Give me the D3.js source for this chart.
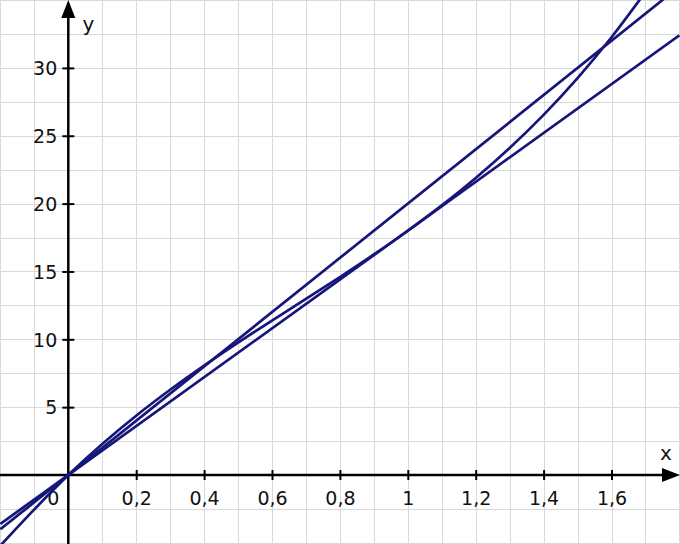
<!DOCTYPE html>
<html>
<head>
<meta charset="utf-8">
<script src="https://cdn.jsdelivr.net/npm/d3@7"></script>
<style>
html,body{margin:0;padding:0;background:#fff;}
svg{display:block;}
text{font-family:"DejaVu Sans",Verdana,sans-serif;}
</style>
</head>
<body>
<svg id="chart" width="680" height="544"></svg>
<script>
// ---- data ----
const xTickValues = [0.2, 0.4, 0.6, 0.8, 1, 1.2, 1.4, 1.6];
const yTickValues = [5, 10, 15, 20, 25, 30];
const curveX = [-0.2, -0.1, 0, 0.1, 0.2, 0.3, 0.4, 0.5, 0.6, 0.7, 0.8, 0.9, 1.0, 1.1, 1.2, 1.3, 1.4, 1.5, 1.6, 1.7];
const curveY = [-5.2, -2.53, 0, 2.29, 4.37, 6.28, 8.06, 9.75, 11.38, 12.98, 14.59, 16.25, 18.0, 19.87, 21.89, 24.10, 26.54, 29.25, 32.26, 35.6];
const line1X = [-0.2, 1.8];
const line1Y = [-4, 36];
const line2X = [-0.2, 1.8];
const line2Y = [-3.6, 32.4];

const W = 680, H = 544;
const svg = d3.select("#chart");
const x = d3.scaleLinear().domain([0, 1]).range([68.3, 407.8]);
const y = d3.scaleLinear().domain([0, 30]).range([475, 67.9]);

// grid
const gridColor = "#d9d9d9";
const gx = d3.range(-2, 19).map(i => i / 10);
const gy = d3.range(-2, 15).map(i => i * 2.5);
svg.append("g").selectAll("line").data(gx).join("line")
  .attr("x1", d => Math.round(x(d)) + 0.5).attr("x2", d => Math.round(x(d)) + 0.5)
  .attr("y1", 0).attr("y2", H).attr("stroke", gridColor).attr("stroke-width", 1);
svg.append("g").selectAll("line").data(gy).join("line")
  .attr("y1", d => Math.round(y(d)) + 0.5).attr("y2", d => Math.round(y(d)) + 0.5)
  .attr("x1", 0).attr("x2", W).attr("stroke", gridColor).attr("stroke-width", 1);

// axes
const fs = 19;
const fmt = d => String(d).replace(".", ",");
const xAxis = svg.append("g").attr("transform", `translate(0,${y(0)})`)
  .call(d3.axisBottom(x).tickValues(xTickValues).tickFormat(fmt).tickSize(5));
xAxis.select(".domain").remove();
xAxis.selectAll(".tick line").attr("y1", -5).attr("y2", 5).attr("stroke", "#000").attr("stroke-width", 2);
xAxis.selectAll(".tick text").attr("y", 30).attr("dy", null).attr("font-size", fs)
  .attr("font-family", "DejaVu Sans, Verdana, sans-serif").attr("fill", "#111");

const yAxis = svg.append("g").attr("transform", `translate(${x(0)},0)`)
  .call(d3.axisLeft(y).tickValues(yTickValues).tickSize(6));
yAxis.select(".domain").remove();
yAxis.selectAll(".tick line").attr("x1", -6).attr("x2", 6).attr("stroke", "#000").attr("stroke-width", 2);
yAxis.selectAll(".tick text").attr("x", -11).attr("dy", "0.36em").attr("font-size", fs)
  .attr("font-family", "DejaVu Sans, Verdana, sans-serif").attr("fill", "#111");

// origin label
svg.append("text").attr("x", x(0) - 9).attr("y", y(0) + 30).attr("text-anchor", "end")
  .attr("font-size", fs).attr("fill", "#111").text("0");

// axis lines with arrows
svg.append("line").attr("x1", 0).attr("x2", W - 10).attr("y1", y(0)).attr("y2", y(0))
  .attr("stroke", "#000").attr("stroke-width", 2.5);
svg.append("path").attr("d", `M${W},${y(0)} L${W - 18},${y(0) - 7} L${W - 18},${y(0) + 7} Z`).attr("fill", "#000");
svg.append("line").attr("x1", x(0)).attr("x2", x(0)).attr("y1", H).attr("y2", 10)
  .attr("stroke", "#000").attr("stroke-width", 2.5);
svg.append("path").attr("d", `M${x(0)},0 L${x(0) - 7},18 L${x(0) + 7},18 Z`).attr("fill", "#000");

svg.append("text").attr("x", x(0) + 20).attr("y", 31).attr("text-anchor", "middle")
  .attr("font-size", 20).attr("fill", "#111").text("y");
svg.append("text").attr("x", 666).attr("y", 460).attr("text-anchor", "middle")
  .attr("font-size", 20).attr("fill", "#111").text("x");

// graphs
svg.append("clipPath").attr("id", "clip").append("rect").attr("width", W).attr("height", H);
const g = svg.append("g").attr("clip-path", "url(#clip)");
const color = "#16167a";
const lineGen = d3.line().x(d => x(d[0])).y(d => y(d[1]));
g.append("path").datum(d3.zip(line1X, line1Y)).attr("d", lineGen)
  .attr("fill", "none").attr("stroke", color).attr("stroke-width", 2.7);
g.append("path").datum(d3.zip(line2X, line2Y)).attr("d", lineGen)
  .attr("fill", "none").attr("stroke", color).attr("stroke-width", 2.7);
g.append("path").datum(d3.zip(curveX, curveY)).attr("d", lineGen.curve(d3.curveCatmullRom))
  .attr("fill", "none").attr("stroke", color).attr("stroke-width", 2.7);
</script>
</body>
</html>
